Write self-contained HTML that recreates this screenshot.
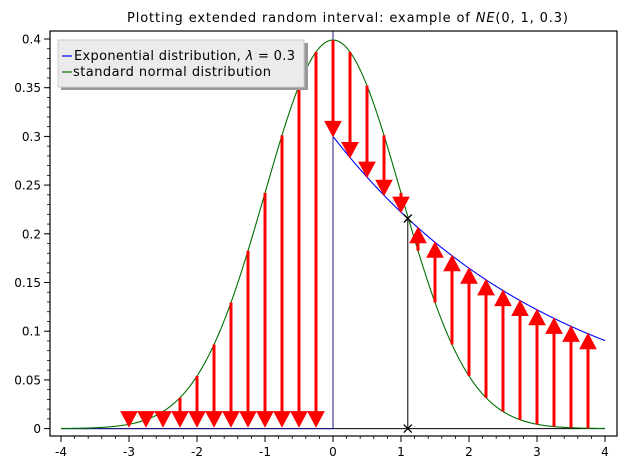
<!DOCTYPE html>
<html><head><meta charset="utf-8"><style>
body{margin:0;background:#fff}
svg{display:block;font-family:"DejaVu Sans","Liberation Sans",sans-serif}
</style></head><body>
<svg id="chart" width="630" height="470" viewBox="0 0 630 470" xmlns="http://www.w3.org/2000/svg">
<rect width="630" height="470" fill="#fff"/>
<text x="127" y="22" font-size="13" textLength="441" lengthAdjust="spacing">Plotting extended random interval: example of <tspan font-style="italic">NE</tspan>(0, 1, 0.3)</text>
<g id="plot"></g>
</svg>
<script>
const lambda = 0.3;
const xTicks = [-4,-3,-2,-1,0,1,2,3,4];
const xTickLabels = ["-4","-3","-2","-1","0","1","2","3","4"];
const yTicks = [0,0.05,0.1,0.15,0.2,0.25,0.3,0.35,0.4];
const yTickLabels = ["0","0.05","0.1","0.15","0.2","0.25","0.3","0.35","0.4"];
const downX = [-3,-2.75,-2.5,-2.25,-2,-1.75,-1.5,-1.25,-1,-0.75,-0.5,-0.25];
const downFrom = [0.0044,0.0091,0.0175,0.0317,0.054,0.0863,0.1295,0.1826,0.242,0.3011,0.3521,0.3867];
const downTo = [0,0,0,0,0,0,0,0,0,0,0,0];
const midX = [0,0.25,0.5,0.75,1];
const midFrom = [0.3989,0.3867,0.3521,0.3011,0.242];
const midTo = [0.3,0.2783,0.2582,0.2396,0.2222];
const upX = [1.25,1.5,1.75,2,2.25,2.5,2.75,3,3.25,3.5,3.75];
const upFrom = [0.1826,0.1295,0.0863,0.054,0.0317,0.0175,0.0091,0.0044,0.002,0.0009,0.0004];
const upTo = [0.2062,0.1913,0.1775,0.1646,0.1527,0.1417,0.1315,0.122,0.1132,0.105,0.0974];
const crossX = 1.1, crossY = 0.2157;

const NS="http://www.w3.org/2000/svg";
const g=document.getElementById('plot');
const X0=333, XS=68, Y0=428.6, YS=974;
const sx=v=>X0+v*XS, sy=v=>Y0-v*YS;
function mk(tag,attrs,parent){const e=document.createElementNS(NS,tag);for(const k in attrs)e.setAttribute(k,attrs[k]);(parent||g).appendChild(e);return e;}

for(let i=-20;i<=20;i++){const v=i*0.2;const t=mk('line',{x1:sx(v),x2:sx(v),y1:436,y2:439,stroke:'#000','stroke-width':0.8});

}
for(let i=0;i<=40;i++){const v=i*0.01;const t=mk('line',{x1:47,x2:50,y1:sy(v),y2:sy(v),stroke:'#000','stroke-width':0.8});

}
xTicks.forEach((v,i)=>{const t=mk('line',{x1:sx(v),x2:sx(v),y1:436,y2:442,stroke:'#000','stroke-width':1});


const l=mk('text',{x:sx(v),y:456,'font-size':12,'text-anchor':'middle'});l.textContent=xTickLabels[i];

});
yTicks.forEach((v,i)=>{const t=mk('line',{x1:44,x2:50,y1:sy(v),y2:sy(v),stroke:'#000','stroke-width':1});


const l=mk('text',{x:41,y:sy(v)+4.5,'font-size':12,'text-anchor':'end'});l.textContent=yTickLabels[i];

});

let pn='',pe='';
for(let i=0;i<=400;i++){const x=-4+i*0.02;const y=Math.exp(-x*x/2)/Math.sqrt(2*Math.PI);pn+=(i?'L':'M')+sx(x).toFixed(2)+','+sy(y).toFixed(2);}
for(let i=0;i<=200;i++){const x=i*0.02;const y=lambda*Math.exp(-lambda*x);pe+=(i?'L':'M')+sx(x).toFixed(2)+','+sy(y).toFixed(2);}
let ax=mk('line',{x1:sx(-4),x2:sx(0),y1:sy(0),y2:sy(0),stroke:'#1a1a80','stroke-width':1.2});


ax=mk('line',{x1:sx(0),x2:sx(4),y1:sy(0),y2:sy(0),stroke:'#000','stroke-width':1});


ax=mk('line',{x1:sx(0),x2:sx(0),y1:31,y2:sy(0),stroke:'#1a1a80','stroke-width':1});


const cn=mk('path',{d:pn,fill:'none',stroke:'#007000','stroke-width':1.1});


const ce=mk('path',{d:pe,fill:'none',stroke:'#0000ff','stroke-width':1.1});



function arrow(x,y1,y2,name){
  const grp=mk('g',{});
  
  
  const X=sx(x),A=sy(y1),B=sy(y2);const dir=B>A?1:-1;const hb=B-dir*15;
  mk('line',{x1:X,x2:X,y1:A,y2:hb,stroke:'#f00','stroke-width':3},grp);
  mk('polygon',{points:`${X-8},${hb} ${X+8},${hb} ${X},${B}`,fill:'#f00',stroke:'#f00','stroke-width':1},grp);
}
downX.forEach((x,i)=>arrow(x,downFrom[i],downTo[i]+0.002,'down-arrow'));
midX.forEach((x,i)=>arrow(x,midFrom[i],midTo[i],'down-arrow'));
upX.forEach((x,i)=>arrow(x,upFrom[i],upTo[i],'up-arrow'));

const vl=mk('line',{x1:sx(crossX),x2:sx(crossX),y1:sy(crossY),y2:sy(0),stroke:'#000','stroke-width':1});


[[crossX,crossY],[crossX,0]].forEach(p=>{const X=sx(p[0]),Y=sy(p[1]);
const m=mk('path',{d:`M${X-4},${Y-4}L${X+4},${Y+4}M${X-4},${Y+4}L${X+4},${Y-4}`,stroke:'#000','stroke-width':1.3});

});

const fr=mk('rect',{x:50,y:31,width:567,height:405,fill:'none',stroke:'#000','stroke-width':1.2});



const lg=mk('g',{});


mk('rect',{x:61,y:43,width:247,height:47,fill:'#999'},lg);
mk('rect',{x:58,y:40,width:246,height:47,fill:'#ebebeb',stroke:'#ccc','stroke-width':1},lg);
mk('line',{x1:62,x2:72,y1:56,y2:56,stroke:'#0000ff','stroke-width':1.2},lg);
mk('line',{x1:62,x2:72,y1:72,y2:72,stroke:'#007000','stroke-width':1.2},lg);
let t=mk('text',{x:74,y:60,'font-size':13,textLength:221,lengthAdjust:'spacing'},lg);t.innerHTML='Exponential distribution, <tspan font-style="italic">λ</tspan> = 0.3';


t=mk('text',{x:73,y:76,'font-size':13,textLength:198,lengthAdjust:'spacing'},lg);t.textContent='standard normal distribution';


</script>
</body></html>
